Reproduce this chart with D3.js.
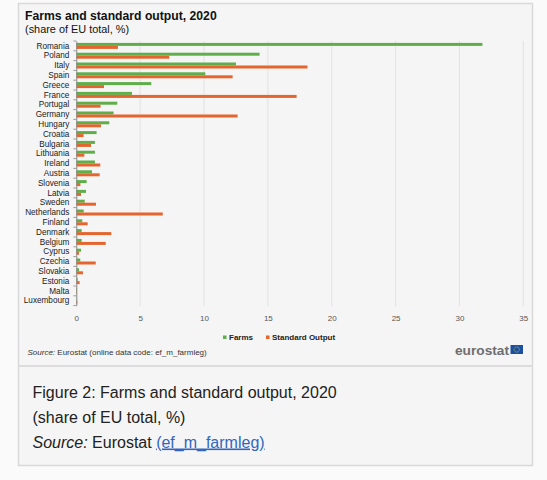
<!DOCTYPE html>
<html>
<head>
<meta charset="utf-8">
<script src="https://cdn.jsdelivr.net/npm/d3@7/dist/d3.min.js"></script>
<style>
  html, body { margin: 0; padding: 0; background: #fafafa; }
  svg { display: block; font-family: "Liberation Sans", Arial, sans-serif; }
</style>
</head>
<body>
<svg id="chart" width="547" height="480"></svg>
<script>
const countries = ["Romania","Poland","Italy","Spain","Greece","France","Portugal","Germany","Hungary","Croatia","Bulgaria","Lithuania","Ireland","Austria","Slovenia","Latvia","Sweden","Netherlands","Finland","Denmark","Belgium","Cyprus","Czechia","Slovakia","Estonia","Malta","Luxembourg"];
const farms = [31.8, 14.35, 12.5, 10.1, 5.87, 4.36, 3.21, 2.92, 2.58, 1.59, 1.46, 1.46, 1.46, 1.23, 0.81, 0.76, 0.66, 0.58, 0.47, 0.42, 0.42, 0.37, 0.31, 0.21, 0.1, 0.05, 0.02];
const standardOutput = [3.26, 7.28, 18.1, 12.24, 2.17, 17.25, 1.9, 12.63, 1.93, 0.57, 1.15, 0.63, 1.88, 1.83, 0.32, 0.37, 1.54, 6.77, 0.89, 2.74, 2.3, 0.21, 1.52, 0.52, 0.26, 0.05, 0.08];
const xTicks = [0, 5, 10, 15, 20, 25, 30, 35];
const seriesNames = ["Farms", "Standard Output"];
const seriesColors = ["#5fae4a", "#e4652e"];

const svg = d3.select("#chart");

// Frame boxes
svg.append("rect").attr("x", 18.5).attr("y", 3.5).attr("width", 514).attr("height", 462)
  .attr("fill", "#f5f5f5").attr("stroke", "#d9d9d9").attr("stroke-width", 1.5);
svg.append("line").attr("x1", 18.5).attr("x2", 532.5).attr("y1", 366).attr("y2", 366)
  .attr("stroke", "#dcdcdc").attr("stroke-width", 2);

// Title
svg.append("text").attr("x", 25).attr("y", 19.5).attr("font-size", 12.2).attr("font-weight", "bold")
  .attr("fill", "#111").text("Farms and standard output, 2020");
svg.append("text").attr("x", 25).attr("y", 32.5).attr("font-size", 10.9)
  .attr("fill", "#111").text("(share of EU total, %)");

const x = d3.scaleLinear().domain([0, 35]).range([76.3, 523.3]);
const y = d3.scaleBand().domain(countries).range([41, 305.6]);

// Gridlines
svg.append("g").selectAll("line").data(xTicks.slice(1)).join("line")
  .attr("x1", d => x(d)).attr("x2", d => x(d))
  .attr("y1", 41).attr("y2", 306)
  .attr("stroke", "#e2e2e2").attr("stroke-width", 1);

// Bars
const bh = 3;
svg.append("g").selectAll("rect").data(countries).join("rect")
  .attr("x", x(0)).attr("y", d => y(d) + y.bandwidth() / 2 - bh)
  .attr("width", (d, i) => x(farms[i]) - x(0)).attr("height", bh)
  .attr("fill", seriesColors[0]);
svg.append("g").selectAll("rect").data(countries).join("rect")
  .attr("x", x(0)).attr("y", d => y(d) + y.bandwidth() / 2)
  .attr("width", (d, i) => x(standardOutput[i]) - x(0)).attr("height", bh)
  .attr("fill", seriesColors[1]);

// Y axis
const yAxis = svg.append("g").attr("transform", `translate(${x(0)},0)`)
  .call(d3.axisLeft(y).tickSize(0).tickPadding(7));
yAxis.select(".domain").attr("stroke", "#888").attr("stroke-width", 1);
yAxis.selectAll("text").attr("font-size", 8.2).attr("fill", "#222")
  .attr("font-family", "Liberation Sans, Arial, sans-serif");
// small ticks at band boundaries
svg.append("g").selectAll("line").data(d3.range(countries.length + 1)).join("line")
  .attr("x1", x(0) - 3).attr("x2", x(0))
  .attr("y1", i => 41 + i * y.step()).attr("y2", i => 41 + i * y.step())
  .attr("stroke", "#888").attr("stroke-width", 0.8);

// X axis labels
const xAxis = svg.append("g").attr("transform", "translate(0,306)")
  .call(d3.axisBottom(x).tickValues(xTicks).tickSize(0).tickPadding(9));
xAxis.select(".domain").remove();
xAxis.selectAll("text").attr("font-size", 8).attr("fill", "#555")
  .attr("font-family", "Liberation Sans, Arial, sans-serif");

// Legend
const legendX = [223, 266];
seriesNames.forEach((n, i) => {
  svg.append("rect").attr("x", legendX[i]).attr("y", 335.5).attr("width", 3.5).attr("height", 3.5)
    .attr("fill", seriesColors[i]);
  svg.append("text").attr("x", legendX[i] + 6).attr("y", 339.5).attr("font-size", 8)
    .attr("font-weight", "bold").attr("fill", "#222").text(n);
});

// Source
const src = svg.append("text").attr("x", 27.5).attr("y", 355).attr("font-size", 8).attr("fill", "#333");
src.append("tspan").attr("font-style", "italic").text("Source:");
src.append("tspan").text(" Eurostat (online data code: ef_m_farmleg)");

// eurostat logo
svg.append("text").attr("x", 509).attr("y", 355).attr("text-anchor", "end")
  .attr("font-size", 13.7).attr("font-weight", "bold").attr("fill", "#6e6e6e").text("eurostat");
svg.append("rect").attr("x", 510.5).attr("y", 345).attr("width", 12.5).attr("height", 9).attr("fill", "#1b4f9f");
svg.append("circle").attr("cx", 516.75).attr("cy", 349.5).attr("r", 2.6)
  .attr("fill", "none").attr("stroke", "#e8d44d").attr("stroke-width", 0.7).attr("stroke-dasharray", "0.8,0.55");

// Caption
const cap = svg.append("g").attr("font-size", 16).attr("fill", "#222");
cap.append("text").attr("x", 32.5).attr("y", 397.5).text("Figure 2: Farms and standard output, 2020");
cap.append("text").attr("x", 32.5).attr("y", 422.8).text("(share of EU total, %)");
const l3 = cap.append("text").attr("x", 32.5).attr("y", 447.5);
l3.append("tspan").attr("font-style", "italic").text("Source:");
l3.append("tspan").text(" Eurostat ");
l3.append("tspan").attr("fill", "#3366bb").attr("text-decoration", "underline").text("(ef_m_farmleg)");
</script>
</body>
</html>
